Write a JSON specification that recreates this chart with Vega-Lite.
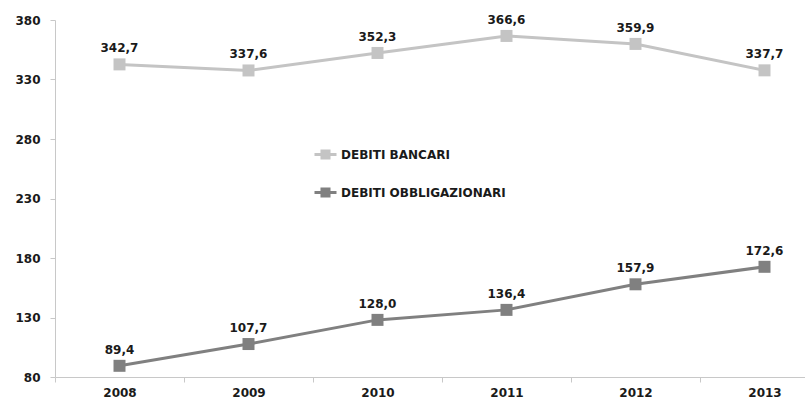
{
  "$schema": "https://vega.github.io/schema/vega-lite/v6.json",
  "width": 750,
  "height": 357,
  "autosize": "none",
  "padding": {"left": 55, "top": 20, "right": 0, "bottom": 26},
  "config": {
    "view": {"stroke": null},
    "font": "DejaVu Sans",
    "locale": {
      "number": {"decimal": ",", "thousands": ".", "grouping": [3], "currency": ["€", ""]}
    },
    "axis": {
      "grid": false,
      "domainColor": "#c8c8c8",
      "tickColor": "#c8c8c8",
      "tickSize": 5,
      "labelFont": "DejaVu Sans",
      "labelFontWeight": "bold",
      "labelFontSize": 12,
      "labelColor": "#1a1a1a",
      "title": null
    }
  },
  "data": {
    "values": [
      {"anno": "2008", "serie": "DEBITI BANCARI", "valore": 342.7},
      {"anno": "2009", "serie": "DEBITI BANCARI", "valore": 337.6},
      {"anno": "2010", "serie": "DEBITI BANCARI", "valore": 352.3},
      {"anno": "2011", "serie": "DEBITI BANCARI", "valore": 366.6},
      {"anno": "2012", "serie": "DEBITI BANCARI", "valore": 359.9},
      {"anno": "2013", "serie": "DEBITI BANCARI", "valore": 337.7},
      {"anno": "2008", "serie": "DEBITI OBBLIGAZIONARI", "valore": 89.4},
      {"anno": "2009", "serie": "DEBITI OBBLIGAZIONARI", "valore": 107.7},
      {"anno": "2010", "serie": "DEBITI OBBLIGAZIONARI", "valore": 128.0},
      {"anno": "2011", "serie": "DEBITI OBBLIGAZIONARI", "valore": 136.4},
      {"anno": "2012", "serie": "DEBITI OBBLIGAZIONARI", "valore": 157.9},
      {"anno": "2013", "serie": "DEBITI OBBLIGAZIONARI", "valore": 172.6}
    ]
  },
  "encoding": {
    "x": {
      "field": "anno",
      "type": "ordinal",
      "scale": {"type": "band", "range": [0, 774], "paddingInner": 0, "paddingOuter": 0},
      "axis": {"labelAngle": 0, "tickBand": "extent", "labelPadding": 5}
    },
    "y": {
      "field": "valore",
      "type": "quantitative",
      "scale": {"domain": [80, 380], "nice": false, "zero": false},
      "axis": {"values": [80, 130, 180, 230, 280, 330, 380], "labelPadding": 10}
    }
  },
  "layer": [
    {
      "mark": {"type": "line", "strokeWidth": 3},
      "encoding": {
        "color": {
          "field": "serie",
          "type": "nominal",
          "scale": {"domain": ["DEBITI BANCARI", "DEBITI OBBLIGAZIONARI"], "range": ["#c4c4c4", "#808080"]},
          "legend": {
            "title": null,
            "orient": "none",
            "legendX": 258,
            "legendY": 122,
            "symbolType": "M-1,0H1M-0.32,-0.32H0.32V0.32H-0.32Z",
            "symbolSize": 484,
            "symbolStrokeWidth": 3,
            "labelFont": "DejaVu Sans",
            "labelFontWeight": "bold",
            "labelFontSize": 12,
            "labelColor": "#1a1a1a",
            "labelLimit": 400,
            "labelOffset": 3,
            "rowPadding": 15,
            "encode": {
              "symbols": {"update": {"fill": {"scale": "color", "field": "value"}}}
            }
          }
        }
      }
    },
    {
      "mark": {"type": "point", "shape": "square", "filled": true, "size": 144, "opacity": 1},
      "encoding": {
        "color": {"field": "serie", "type": "nominal", "legend": null}
      }
    },
    {
      "mark": {"type": "text", "dy": -16, "baseline": "middle", "font": "DejaVu Sans", "fontWeight": "bold", "fontSize": 12, "color": "#1a1a1a"},
      "encoding": {
        "text": {"field": "valore", "type": "quantitative", "format": ".1f"}
      }
    }
  ]
}
